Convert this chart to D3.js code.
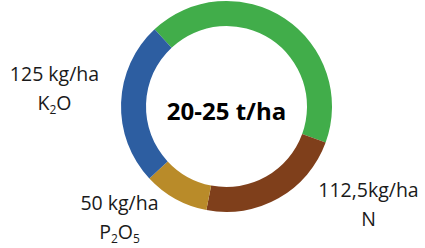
<!DOCTYPE html>
<html>
<head>
<meta charset="utf-8">
<script src="https://cdn.jsdelivr.net/npm/d3@7"></script>
<style>
    body { margin: 0; background: #fff; }
    svg { display: block; }
    .lbl { font-family: "Open Sans", sans-serif; font-size: 19.5px; fill: #1a1a1a; text-anchor: middle; }
    .center { font-family: "Open Sans", sans-serif; font-size: 24px; font-weight: bold; fill: #000; text-anchor: middle; }
</style>
</head>
<body>
<div id="chart"></div>
<script>
const WIDTH = 425;
const HEIGHT = 248;

// nutrient shares, kg/ha (green part is the remainder of the ring)
const nutrients = ["rest", "N", "P2O5", "K2O"];
const values = [212.5, 112.5, 50, 125];
const colors = ["#41ad4a", "#7f3f1b", "#b98b29", "#2d5ea1"];
const amountLabels = ["", "112,5kg/ha", "50 kg/ha", "125 kg/ha"];
const formulaLabels = [
    [],
    [["N", false]],
    [["P", false], ["2", true], ["O", false], ["5", true]],
    [["K", false], ["2", true], ["O", false]]
];
const centerLabel = "20-25 t/ha";

const CX = 226.5;
const CY = 106.5;
const R_OUT = 105.5;
const R_IN = 80.5;
const START = -43 * Math.PI / 180;
const SUB_SHIFT = 4;

// label anchors relative to ring centre (layout only)
const labelOffsets = [null, [142, 90], [-107, 103], [-172, -26]];

const svg = d3.select("#chart").append("svg")
    .attr("width", WIDTH)
    .attr("height", HEIGHT);

const pie = d3.pie()
    .sort(null)
    .startAngle(START)
    .endAngle(START + 2 * Math.PI);

const arc = d3.arc()
    .innerRadius(R_IN)
    .outerRadius(R_OUT);

const g = svg.append("g")
    .attr("transform", `translate(${CX}, ${CY})`);

g.selectAll("path")
    .data(pie(values))
    .join("path")
    .attr("d", arc)
    .attr("fill", (d, i) => colors[i]);

g.append("text")
    .attr("class", "center")
    .attr("y", 13)
    .text(centerLabel);

// outside labels: amount on first line, formula below
nutrients.forEach((n, i) => {
    if (!labelOffsets[i]) return;
    const [dx, dy] = labelOffsets[i];
    g.append("text")
        .attr("class", "lbl")
        .attr("x", dx)
        .attr("y", dy)
        .text(amountLabels[i]);

    const f = g.append("text")
        .attr("class", "lbl")
        .attr("x", dx)
        .attr("y", dy + 29);
    let shift = 0;
    formulaLabels[i].forEach(([s, sub]) => {
        const target = sub ? SUB_SHIFT : 0;
        f.append("tspan")
            .attr("font-size", sub ? 12 : null)
            .attr("dy", target - shift)
            .text(s);
        shift = target;
    });
});
</script>
</body>
</html>
